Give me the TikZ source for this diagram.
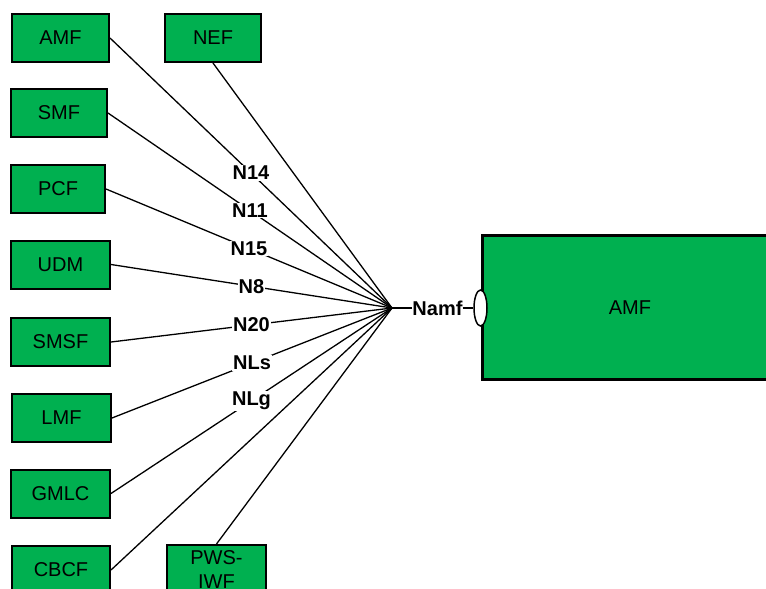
\documentclass[tikz,border=0pt]{standalone}
\usepackage{fontspec}
\setmainfont{Liberation Sans}
\usetikzlibrary{shapes.geometric}
\definecolor{nfgreen}{RGB}{0,176,80}
\tikzset{
  nfbox/.style={draw=black, line width=2pt, fill=nfgreen, inner sep=0pt,
    minimum height=48pt, font=\fontsize{20}{25}\selectfont, align=center},
  bigbox/.style={draw=black, line width=3pt, fill=nfgreen},
  link/.style={draw=black, line width=1.3pt},
  lbl/.style={fill=white, inner sep=1pt, font=\fontsize{20}{24}\selectfont\bfseries},
}
\begin{document}
\begin{tikzpicture}[x=1pt, y=-1pt]
\useasboundingbox (0,0) rectangle (766,589);
\clip (0,0) rectangle (766,589);
% hub
\coordinate (hub) at (392,308);
% boxes
\node[nfbox, minimum width=97pt] (amf) at (60.5,38) {AMF};
\node[nfbox, minimum width=96pt] (nef) at (213,38) {NEF};
\node[nfbox, minimum width=96pt] (smf) at (59,113) {SMF};
\node[nfbox, minimum width=94pt] (pcf) at (58,189) {PCF};
\node[nfbox, minimum width=99pt] (udm) at (60.5,264.5) {UDM};
\node[nfbox, minimum width=99pt] (smsf) at (60.5,342) {SMSF};
\node[nfbox, minimum width=99pt] (lmf) at (61.5,418) {LMF};
\node[nfbox, minimum width=99pt] (gmlc) at (60.5,493.5) {GMLC};
\node[nfbox, minimum width=98pt] (cbcf) at (61,570) {CBCF};
\node[nfbox, minimum width=99pt, minimum height=50pt] (pws) at (216.5,570) {PWS-\\[-1pt]IWF};
% big AMF
\draw[bigbox] (482,235) rectangle (790,379);
\node[font=\fontsize{20}{24}\selectfont] (bigamf) at (630,308) {AMF};
% connectors
\draw[link] (amf.east) -- node[lbl] {N14} (hub);
\draw[link] (smf.east) -- node[lbl] {N11} (hub);
\draw[link] (pcf.east) -- node[lbl] {N15} (hub);
\draw[link] (udm.east) -- node[lbl] {N8} (hub);
\draw[link] (smsf.east) -- node[lbl] {N20} (hub);
\draw[link] (lmf.east) -- node[lbl] {NLs} (hub);
\draw[link] (gmlc.east) -- node[lbl] {NLg} (hub);
\draw[link] (cbcf.east) -- (hub);
\draw[link] (nef.south) -- (hub);
\draw[link] (pws.north) -- (hub);
% service interface
\node[lbl, fill=none, inner sep=0pt] (namf) at (437.5,308) {Namf};
\node[draw=black, line width=1.5pt, fill=white, ellipse, inner sep=0pt,
      minimum width=13pt, minimum height=36pt] (ell) at (480.5,308) {};
\draw[link] (hub) -- (namf.west);
\draw[link] (namf.east) -- (ell.west);
\end{tikzpicture}
\end{document}
